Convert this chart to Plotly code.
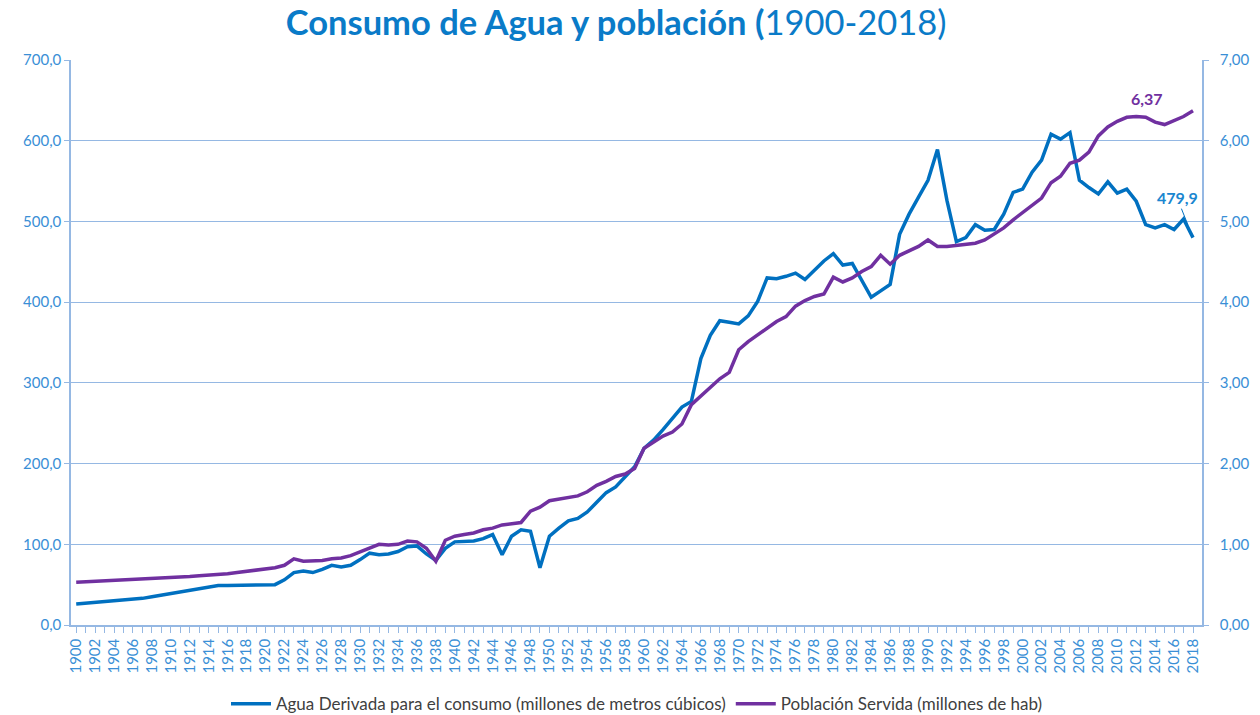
import plotly.graph_objects as go

years = list(range(1900, 2019))

agua = [
    26, 27, 27.5, 28, 29, 30, 31.5, 33, 35, 37,          # 1900-1909
    39, 41, 43, 45, 47, 49, 49, 49, 49, 49,              # 1910-1919
    49, 50, 56, 65, 67, 65, 69, 74, 72, 74,              # 1920-1929
    81, 89, 87, 88, 91, 97, 98, 88, 80, 95,              # 1930-1939
    103, 104, 104, 107, 112, 87, 110, 118, 116, 71,      # 1940-1949
    110, 120, 129, 132, 140, 152, 164, 171, 184, 196,    # 1950-1959
    219, 229, 242, 256, 270, 277, 330, 359, 377, 375,    # 1960-1969
    373, 383, 401, 430, 429, 432, 436, 428, 440, 451,    # 1970-1979
    460, 446, 448, 428, 406, 414, 422, 484, 509, 530,    # 1980-1989
    551, 589, 526, 475, 480, 496, 489, 490, 509, 536,    # 1990-1999
    540, 561, 576, 608, 602, 610, 551, 542, 534, 549,    # 2000-2009
    535, 540, 525, 496, 492, 496, 490, 503, 479.9,       # 2010-2018
]

poblacion = [
    0.53, 0.535, 0.54, 0.545, 0.55, 0.555, 0.56, 0.57, 0.575, 0.58,   # 1900-1909
    0.59, 0.595, 0.60, 0.61, 0.615, 0.62, 0.635, 0.65, 0.665, 0.68,   # 1910-1919
    0.695, 0.71, 0.74, 0.82, 0.79, 0.79, 0.80, 0.82, 0.83, 0.86,      # 1920-1929
    0.91, 0.96, 1.00, 0.99, 1.00, 1.04, 1.03, 0.95, 0.79, 1.05,       # 1930-1939
    1.10, 1.12, 1.14, 1.18, 1.20, 1.24, 1.26, 1.27, 1.41, 1.46,       # 1940-1949
    1.54, 1.56, 1.58, 1.60, 1.65, 1.73, 1.78, 1.84, 1.87, 1.94,       # 1950-1959
    2.19, 2.27, 2.34, 2.39, 2.49, 2.73, 2.84, 2.95, 3.05, 3.13,       # 1960-1969
    3.41, 3.51, 3.59, 3.68, 3.76, 3.82, 3.95, 4.02, 4.07, 4.10,       # 1970-1979
    4.31, 4.25, 4.30, 4.38, 4.44, 4.58, 4.47, 4.58, 4.64, 4.69,       # 1980-1989
    4.77, 4.69, 4.69, 4.70, 4.72, 4.73, 4.77, 4.84, 4.92, 5.02,       # 1990-1999
    5.11, 5.21, 5.29, 5.48, 5.56, 5.72, 5.76, 5.86, 6.06, 6.17,       # 2000-2009
    6.24, 6.29, 6.30, 6.29, 6.23, 6.20, 6.25, 6.30, 6.37,             # 2010-2018
]

tick_years = list(range(1900, 2019, 2))
tick_labels = [str(y) for y in tick_years]

name_agua = "Agua Derivada para el consumo (millones de metros cúbicos)"
name_pob = "Población Servida (millones de hab)"

BLUE = "#0070C0"
PURPLE = "#7030A0"
AXIS_TXT = "#3A8FD6"
GRID = "#95B8E3"
FONT = "Lato"

fig = go.Figure()
fig.add_trace(go.Scatter(x=years, y=agua, name=name_agua, mode="lines",
                         line=dict(color=BLUE, width=3.5), yaxis="y"))
fig.add_trace(go.Scatter(x=years, y=poblacion, name=name_pob, mode="lines",
                         line=dict(color=PURPLE, width=3.5), yaxis="y2"))

fig.update_layout(
    width=1260, height=715,
    paper_bgcolor="white", plot_bgcolor="white",
    separators=",.",
    font=dict(family=FONT, color=AXIS_TXT, size=15),
    margin=dict(l=71, r=58, t=60, b=90, autoexpand=False),
    title=dict(
        text="<b>Consumo de Agua y población (</b>1900-2018)",
        x=0.489, xanchor="center", y=0.968, yanchor="middle",
        font=dict(family=FONT, size=34.5, color="#0A7BC8"),
    ),
    xaxis=dict(
        range=[1899.45, 2018.95], automargin=False,
        tickmode="array", tickvals=tick_years, ticktext=tick_labels,
        tickangle=-90, tickfont=dict(size=15, color=AXIS_TXT),
        ticks="outside", ticklen=6, tickcolor=GRID,
        minor=dict(ticks="outside", dtick=1, tick0=1900, ticklen=6, tickcolor=GRID),
        showline=True, linecolor=GRID, linewidth=1.5,
        showgrid=False, zeroline=False,
    ),
    yaxis=dict(
        range=[0, 700], dtick=100, tickformat=".1f", automargin=False,
        tickfont=dict(size=15, color=AXIS_TXT),
        showline=True, linecolor=GRID, linewidth=1.5,
        ticks="outside", ticklen=5, tickcolor=GRID,
        showgrid=True, gridcolor=GRID, gridwidth=1.2, zeroline=False,
    ),
    yaxis2=dict(
        range=[0, 7], dtick=1, tickformat=".2f", overlaying="y", side="right",
        automargin=False, ticklabelstandoff=8,
        tickfont=dict(size=15, color=AXIS_TXT),
        showline=True, linecolor=GRID, linewidth=1.5,
        ticks="outside", ticklen=5, tickcolor=GRID,
        showgrid=False, zeroline=False,
    ),
    legend=dict(
        orientation="h", x=0.5, xanchor="center",
        yref="container", y=0.015, yanchor="middle",
        font=dict(size=17, color="#404040", family=FONT),
        itemwidth=40, traceorder="normal",
    ),
    annotations=[
        dict(x=2018, y=agua[-1], xref="x", yref="y", text="<b>479,9</b>",
             showarrow=True, arrowhead=0, arrowwidth=1, arrowcolor=BLUE,
             ax=-16, ay=-40, standoff=14,
             font=dict(size=16, color="#1A86D0", family=FONT)),
        dict(x=2018, y=poblacion[-1], xref="x", yref="y2", text="<b>6,37</b>",
             showarrow=False, xshift=-46, yshift=12,
             font=dict(size=16, color=PURPLE, family=FONT)),
    ],
)

# remove the browser's default 8px body margin so the 1260x715 figure fills the window
fig.write_html("out.html", config={"displayModeBar": False},
               post_script="document.body.style.margin='0';")
